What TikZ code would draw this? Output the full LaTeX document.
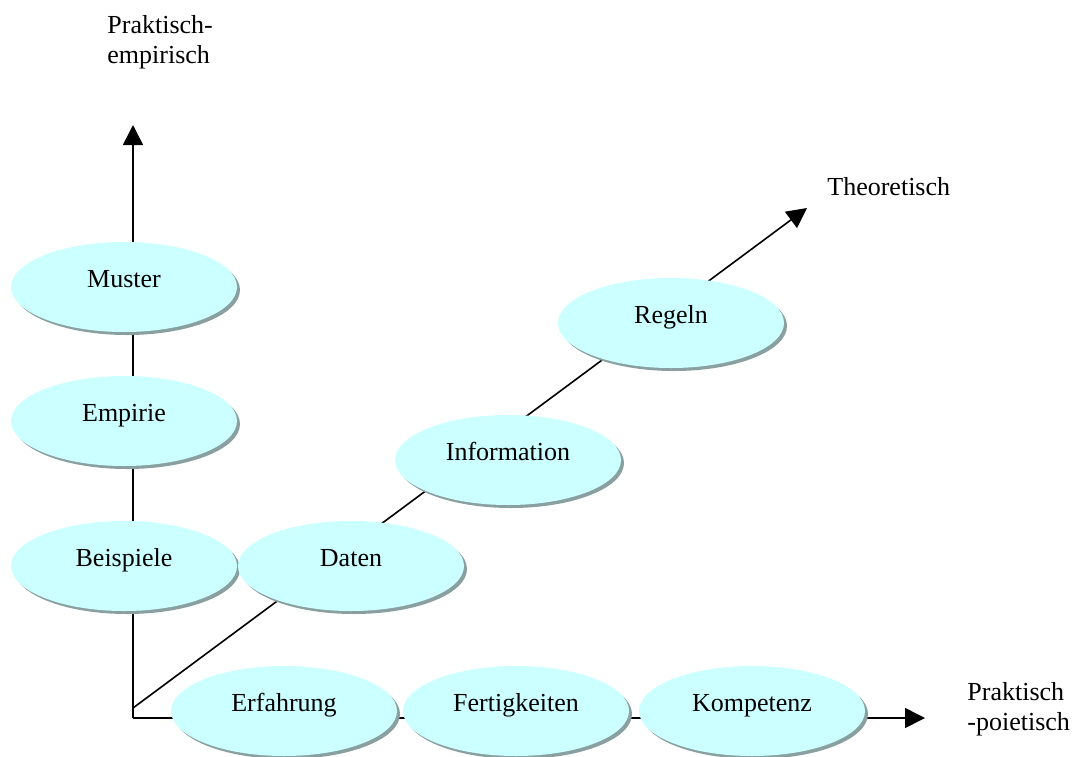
\documentclass[tikz,border=0pt]{standalone}
\usepackage{fontspec}
\setmainfont{Liberation Serif}
\usetikzlibrary{arrows.meta,shapes.geometric,shadows}

\tikzset{
  bubble/.style={ellipse, fill=bubblecol, minimum width=113pt, minimum height=45pt, inner sep=0pt,
    text height=8pt, text depth=8pt,
    drop shadow={shadow xshift=1.5pt, shadow yshift=-1.5pt, fill=shadowcol, opacity=1}},
  axisline/.style={line width=0.8pt, -{Triangle[length=10pt,width=10pt]}},
  axislabel/.style={align=left, inner sep=0pt, anchor=north west}
}

\begin{document}
\begin{tikzpicture}[x=0.5pt, y=-0.5pt, font=\fontsize{13}{15}\selectfont]
\definecolor{bubblecol}{HTML}{CCFFFF}
\definecolor{shadowcol}{HTML}{8AA0A0}
\useasboundingbox (0,0) rectangle (1077,756);
% axes
\coordinate (origin) at (133,718);
\coordinate (diagstart) at (133,708);
\coordinate (empirtip) at (133,125);
\coordinate (poiettip) at (925,718);
\coordinate (theotip) at (807,208);
\draw[axisline] (origin) -- (empirtip);
\draw[axisline] (origin) -- (poiettip);
\draw[axisline] (diagstart) -- (theotip);
% axis labels
\node[axislabel] (empirlabel) at (107,15) {Praktisch-\\empirisch};
\node[axislabel] (theolabel) at (827,177) {Theoretisch};
\node[axislabel] (poietlabel) at (967,682) {Praktisch\\-poietisch};
% bubbles
\node[bubble] (muster) at (124,287) {Muster};
\node[bubble] (empirie) at (124,421) {Empirie};
\node[bubble] (beispiele) at (124,566) {Beispiele};
\node[bubble] (daten) at (351,566) {Daten};
\node[bubble] (information) at (508,460) {Information};
\node[bubble] (regeln) at (671,323) {Regeln};
\node[bubble] (erfahrung) at (284,711) {Erfahrung};
\node[bubble] (fertigkeiten) at (516,711) {Fertigkeiten};
\node[bubble] (kompetenz) at (752,711) {Kompetenz};
\end{tikzpicture}
\end{document}
